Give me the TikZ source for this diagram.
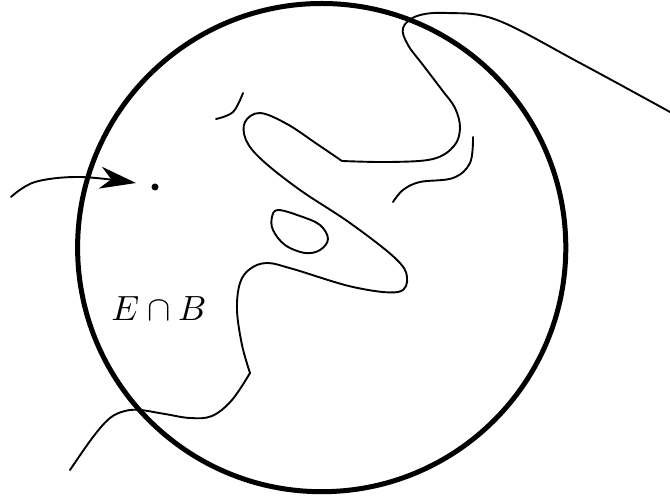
\documentclass[tikz,border=0pt]{standalone}
\usepackage{graphicx}
\usetikzlibrary{arrows.meta}
\begin{document}
\begin{tikzpicture}[x=1pt,y=-1pt,
  thin curve/.style={line width=1.9pt,line cap=round,line join=round},
  ball/.style={line width=5pt},
  pointer/.style={thin curve,-{Stealth[length=36pt,width=22pt,inset=11pt]}},
  dotnode/.style={circle,fill=black,inner sep=0pt,minimum size=7pt},
  lbl/.style={inner sep=0pt}]
\useasboundingbox (0,0) rectangle (670,502);
% ball
\draw[ball] (321.7,247.6) circle[radius=244.1pt];
% main curve
\draw[thin curve]
  plot[smooth,tension=0.6] coordinates {(70,470) (93,437) (110,418) (125,411) (140,410) (165,414) (190,418) (212,416) (232,400) (250,373)}
  -- plot[smooth,tension=0.6] coordinates {(250,373) (242,345) (237,310) (240,283) (250,269) (267,263) (293,269) (353,287) (398,292) (407,277) (395,258) (350,223) (300,190) (262,160) (246,140) (245,122) (260,113) (287,124) (317,144) (342,161)}
  -- plot[smooth,tension=0.6] coordinates {(342,161) (390,162) (433,159) (454,146) (460,128) (455,108) (442,90) (423,65) (408,45) (403,28) (417,16) (447,13) (497,20) (580,63) (670,112)};
% right short curve
\draw[thin curve] plot[smooth,tension=0.6] coordinates {(473,137) (470,163) (453,178) (420,182) (403,190) (393,202)};
% small top-left arc
\draw[thin curve] plot[smooth,tension=0.6] coordinates {(216,119) (233,112) (243,93)};
% small closed loop
\draw[thin curve] plot[smooth cycle,tension=0.6] coordinates {(278,210) (300,216) (320,225) (328,239) (320,250) (305,253) (285,245) (273,230) (272,217)};
% point and arrow
\node[dotnode] (p) at (155,187) {};
\coordinate (tip) at (136,183);
\draw[pointer] plot[smooth,tension=0.6] coordinates {(11,197) (35,182) (80,177) (tip)};
% label
\node[lbl] (eb) at (159,309) {\scalebox{3.5}{$E\cap B$}};
\end{tikzpicture}
\end{document}
